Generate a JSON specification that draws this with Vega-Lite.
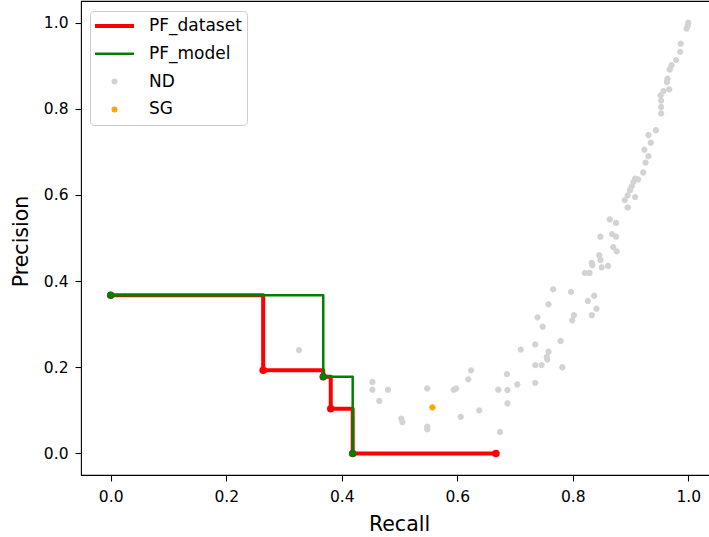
{
  "$schema": "https://vega.github.io/schema/vega-lite/v6.json",
  "width": 629,
  "height": 474,
  "autosize": {"type": "none"},
  "padding": {"left": 81, "top": 1, "right": 0, "bottom": 62},
  "background": "white",
  "config": {
    "font": "DejaVu Sans",
    "view": {"stroke": "black", "strokeWidth": 1.1},
    "axis": {
      "grid": false,
      "domain": false,
      "tickColor": "black",
      "tickWidth": 1.1,
      "tickSize": 6,
      "labelColor": "black",
      "labelFontSize": 15.5,
      "titleColor": "black",
      "titleFontSize": 20.5,
      "titleFontWeight": "normal"
    },
    "legend": {
      "orient": "none",
      "legendX": 9,
      "legendY": 10,
      "title": null,
      "padding": 5,
      "fillColor": "rgba(255,255,255,0.8)",
      "strokeColor": "#cccccc",
      "strokeWidth": 1,
      "cornerRadius": 4,
      "labelFontSize": 17,
      "labelColor": "black",
      "symbolSize": 169,
      "symbolStrokeWidth": 2.5,
      "symbolOffset": 11,
      "labelOffset": 26,
      "clipHeight": 20,
      "rowPadding": 7.8,
      "labelLimit": 200
    }
  },
  "datasets": {
    "pts": [
      {"recall": 0.326, "precision": 0.240, "s": "ND"},
      {"recall": 0.453, "precision": 0.166, "s": "ND"},
      {"recall": 0.453, "precision": 0.148, "s": "ND"},
      {"recall": 0.480, "precision": 0.148, "s": "ND"},
      {"recall": 0.465, "precision": 0.122, "s": "ND"},
      {"recall": 0.503, "precision": 0.081, "s": "ND"},
      {"recall": 0.505, "precision": 0.073, "s": "ND"},
      {"recall": 0.548, "precision": 0.151, "s": "ND"},
      {"recall": 0.548, "precision": 0.062, "s": "ND"},
      {"recall": 0.548, "precision": 0.056, "s": "ND"},
      {"recall": 0.594, "precision": 0.148, "s": "ND"},
      {"recall": 0.598, "precision": 0.151, "s": "ND"},
      {"recall": 0.606, "precision": 0.085, "s": "ND"},
      {"recall": 0.619, "precision": 0.172, "s": "ND"},
      {"recall": 0.624, "precision": 0.193, "s": "ND"},
      {"recall": 0.638, "precision": 0.100, "s": "ND"},
      {"recall": 0.674, "precision": 0.050, "s": "ND"},
      {"recall": 0.671, "precision": 0.148, "s": "ND"},
      {"recall": 0.687, "precision": 0.147, "s": "ND"},
      {"recall": 0.686, "precision": 0.184, "s": "ND"},
      {"recall": 0.687, "precision": 0.116, "s": "ND"},
      {"recall": 0.704, "precision": 0.160, "s": "ND"},
      {"recall": 0.710, "precision": 0.241, "s": "ND"},
      {"recall": 0.846, "precision": 0.460, "s": "ND"},
      {"recall": 0.848, "precision": 0.449, "s": "ND"},
      {"recall": 0.833, "precision": 0.442, "s": "ND"},
      {"recall": 0.834, "precision": 0.437, "s": "ND"},
      {"recall": 0.876, "precision": 0.469, "s": "ND"},
      {"recall": 0.850, "precision": 0.432, "s": "ND"},
      {"recall": 0.861, "precision": 0.435, "s": "ND"},
      {"recall": 0.821, "precision": 0.419, "s": "ND"},
      {"recall": 0.829, "precision": 0.419, "s": "ND"},
      {"recall": 0.766, "precision": 0.381, "s": "ND"},
      {"recall": 0.797, "precision": 0.375, "s": "ND"},
      {"recall": 0.758, "precision": 0.346, "s": "ND"},
      {"recall": 0.826, "precision": 0.354, "s": "ND"},
      {"recall": 0.837, "precision": 0.366, "s": "ND"},
      {"recall": 0.841, "precision": 0.336, "s": "ND"},
      {"recall": 0.833, "precision": 0.321, "s": "ND"},
      {"recall": 0.739, "precision": 0.316, "s": "ND"},
      {"recall": 0.802, "precision": 0.321, "s": "ND"},
      {"recall": 0.799, "precision": 0.309, "s": "ND"},
      {"recall": 0.748, "precision": 0.294, "s": "ND"},
      {"recall": 0.779, "precision": 0.261, "s": "ND"},
      {"recall": 0.735, "precision": 0.253, "s": "ND"},
      {"recall": 0.758, "precision": 0.236, "s": "ND"},
      {"recall": 0.755, "precision": 0.224, "s": "ND"},
      {"recall": 0.756, "precision": 0.218, "s": "ND"},
      {"recall": 0.735, "precision": 0.205, "s": "ND"},
      {"recall": 0.746, "precision": 0.205, "s": "ND"},
      {"recall": 0.782, "precision": 0.200, "s": "ND"},
      {"recall": 0.735, "precision": 0.164, "s": "ND"},
      {"recall": 0.953, "precision": 0.819, "s": "ND"},
      {"recall": 0.953, "precision": 0.804, "s": "ND"},
      {"recall": 0.953, "precision": 0.789, "s": "ND"},
      {"recall": 0.944, "precision": 0.750, "s": "ND"},
      {"recall": 0.931, "precision": 0.739, "s": "ND"},
      {"recall": 0.935, "precision": 0.721, "s": "ND"},
      {"recall": 0.924, "precision": 0.705, "s": "ND"},
      {"recall": 0.931, "precision": 0.690, "s": "ND"},
      {"recall": 0.926, "precision": 0.675, "s": "ND"},
      {"recall": 0.922, "precision": 0.652, "s": "ND"},
      {"recall": 0.913, "precision": 0.636, "s": "ND"},
      {"recall": 0.908, "precision": 0.638, "s": "ND"},
      {"recall": 0.905, "precision": 0.630, "s": "ND"},
      {"recall": 0.902, "precision": 0.620, "s": "ND"},
      {"recall": 0.899, "precision": 0.611, "s": "ND"},
      {"recall": 0.895, "precision": 0.599, "s": "ND"},
      {"recall": 0.890, "precision": 0.588, "s": "ND"},
      {"recall": 0.908, "precision": 0.595, "s": "ND"},
      {"recall": 0.895, "precision": 0.571, "s": "ND"},
      {"recall": 0.864, "precision": 0.543, "s": "ND"},
      {"recall": 0.875, "precision": 0.535, "s": "ND"},
      {"recall": 0.848, "precision": 0.503, "s": "ND"},
      {"recall": 0.868, "precision": 0.509, "s": "ND"},
      {"recall": 0.875, "precision": 0.503, "s": "ND"},
      {"recall": 0.870, "precision": 0.479, "s": "ND"},
      {"recall": 1.000, "precision": 1.000, "s": "ND"},
      {"recall": 0.999, "precision": 0.993, "s": "ND"},
      {"recall": 0.997, "precision": 0.986, "s": "ND"},
      {"recall": 0.987, "precision": 0.951, "s": "ND"},
      {"recall": 0.986, "precision": 0.932, "s": "ND"},
      {"recall": 0.979, "precision": 0.913, "s": "ND"},
      {"recall": 0.971, "precision": 0.901, "s": "ND"},
      {"recall": 0.968, "precision": 0.891, "s": "ND"},
      {"recall": 0.964, "precision": 0.870, "s": "ND"},
      {"recall": 0.963, "precision": 0.862, "s": "ND"},
      {"recall": 0.967, "precision": 0.845, "s": "ND"},
      {"recall": 0.957, "precision": 0.841, "s": "ND"},
      {"recall": 0.952, "precision": 0.831, "s": "ND"},
      {"recall": 0.557, "precision": 0.107, "s": "SG"}
    ],
    "pf": [
      {"recall": 0.0, "precision": 0.367, "s": "PF_dataset"},
      {"recall": 0.264, "precision": 0.193, "s": "PF_dataset"},
      {"recall": 0.368, "precision": 0.178, "s": "PF_dataset"},
      {"recall": 0.381, "precision": 0.104, "s": "PF_dataset"},
      {"recall": 0.419, "precision": 0.0, "s": "PF_dataset"},
      {"recall": 0.667, "precision": 0.0, "s": "PF_dataset"},
      {"recall": 0.0, "precision": 0.367, "s": "PF_model"},
      {"recall": 0.368, "precision": 0.178, "s": "PF_model"},
      {"recall": 0.419, "precision": 0.0, "s": "PF_model"}
    ]
  },
  "encoding": {
    "x": {
      "field": "recall",
      "type": "quantitative",
      "scale": {"domain": [-0.0514, 1.0376], "nice": false, "zero": false},
      "axis": {
        "title": "Recall",
        "values": [0, 0.2, 0.4, 0.6, 0.8, 1.0],
        "format": ".1f",
        "labelPadding": 8,
        "titleX": 318,
        "titleY": 55,
        "titleAlign": "center",
        "titleBaseline": "alphabetic",
        "titleAnchor": null
      }
    },
    "y": {
      "field": "precision",
      "type": "quantitative",
      "scale": {"domain": [-0.05, 1.05], "nice": false, "zero": false},
      "axis": {
        "title": "Precision",
        "values": [0, 0.2, 0.4, 0.6, 0.8, 1.0],
        "format": ".1f",
        "labelPadding": 7,
        "titleX": -54,
        "titleY": 240,
        "titleAngle": 270,
        "titleAlign": "center",
        "titleBaseline": "alphabetic",
        "titleAnchor": null
      }
    }
  },
  "layer": [
    {
      "data": {"name": "pts"},
      "mark": {"type": "point", "filled": true, "size": 544, "opacity": 1},
      "encoding": {
        "color": {
          "field": "s",
          "type": "nominal",
          "scale": {
            "domain": ["PF_dataset", "PF_model", "ND", "SG"],
            "range": ["#ff0000", "#008000", "#d3d3d3", "#ffa500"]
          }
        },
        "shape": {
          "field": "s",
          "type": "nominal",
          "scale": {
            "domain": ["PF_dataset", "PF_model", "ND", "SG"],
            "range": [
              "M-3,-0.1H3M-3,0.1H3",
              "M-3,0H3",
              "M0.27,0A0.27,0.27,0,1,1,-0.27,0A0.27,0.27,0,1,1,0.27,0Z",
              "M0.27,0A0.27,0.27,0,1,1,-0.27,0A0.27,0.27,0,1,1,0.27,0Z"
            ]
          }
        }
      }
    },
    {
      "data": {"name": "pf"},
      "transform": [{"filter": "datum.s === 'PF_dataset'"}],
      "mark": {"type": "line", "strokeWidth": 4, "interpolate": "step-after", "strokeJoin": "round"},
      "encoding": {"color": {"field": "s", "type": "nominal"}}
    },
    {
      "data": {"name": "pf"},
      "transform": [{"filter": "datum.s === 'PF_dataset'"}],
      "mark": {"type": "point", "filled": true, "size": 56, "opacity": 1, "shape": "circle"},
      "encoding": {"color": {"field": "s", "type": "nominal"}}
    },
    {
      "data": {"name": "pf"},
      "transform": [{"filter": "datum.s === 'PF_model'"}],
      "mark": {"type": "line", "strokeWidth": 2.5, "interpolate": "step-after", "strokeJoin": "round"},
      "encoding": {"color": {"field": "s", "type": "nominal"}}
    },
    {
      "data": {"name": "pf"},
      "transform": [{"filter": "datum.s === 'PF_model'"}],
      "mark": {"type": "point", "filled": true, "size": 49, "opacity": 1, "shape": "circle"},
      "encoding": {"color": {"field": "s", "type": "nominal"}}
    }
  ]
}
